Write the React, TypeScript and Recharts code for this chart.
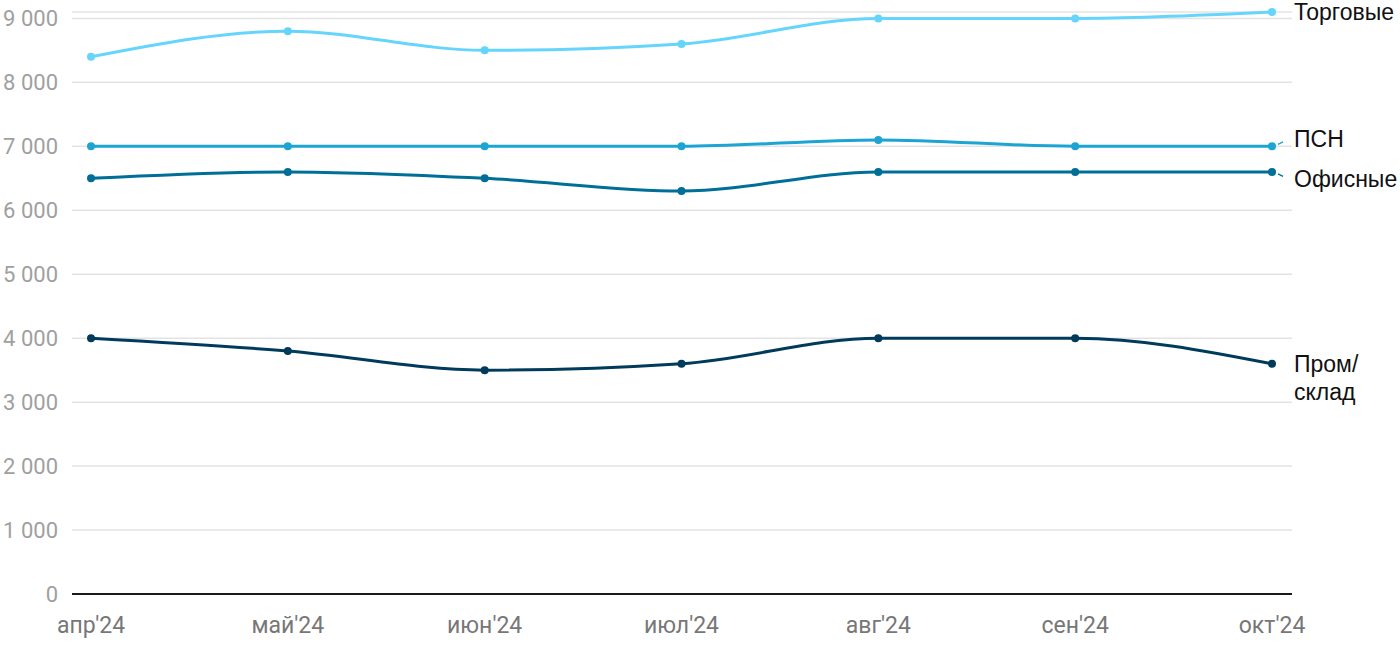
import React from 'react'
import { LineChart, Line, XAxis, YAxis, CartesianGrid, LabelList } from 'recharts'

const months = ["апр'24", "май'24", "июн'24", "июл'24", "авг'24", "сен'24", "окт'24"]
const retail = [8400, 8800, 8500, 8600, 9000, 9000, 9100]
const psn = [7000, 7000, 7000, 7000, 7100, 7000, 7000]
const office = [6500, 6600, 6500, 6300, 6600, 6600, 6600]
const warehouse = [4000, 3800, 3500, 3600, 4000, 4000, 3600]
const yTicks = [0, 1000, 2000, 3000, 4000, 5000, 6000, 7000, 8000, 9000]

const data = months.map((m, i) => ({
  m,
  retail: retail[i],
  psn: psn[i],
  office: office[i],
  warehouse: warehouse[i],
}))

const FONT = 'Roboto, "Liberation Sans", Arial, sans-serif'
const LABEL_FONT = '"Liberation Sans", Arial, Helvetica, sans-serif'
const fmt = (v: number) => String(v).replace(/\B(?=(\d{3})+(?!\d))/g, ' ')

interface EndLabelProps {
  x?: number
  y?: number
  index?: number
  [key: string]: unknown
}

function endLabel(lines: string[], color: string, shift: number) {
  return (props: EndLabelProps) => {
    if (props.index !== months.length - 1) return null
    const x = Number(props.x)
    const y = Number(props.y)
    const dir = Math.sign(shift)
    return (
      <g>
        {shift !== 0 && (
          <line
            x1={x + 6}
            y1={y + dir * 2}
            x2={x + 11}
            y2={y + dir * 4.5}
            stroke={color}
            strokeWidth={1.5}
          />
        )}
        <text x={x + 22} y={y + shift} fontSize={23} fontFamily={LABEL_FONT} fill="#111" dominantBaseline="central">
          {lines.map((t, i) => (
            <tspan key={i} x={x + 22} dy={i === 0 ? 0 : 28}>
              {t}
            </tspan>
          ))}
        </text>
      </g>
    )
  }
}

const series = [
  { key: 'warehouse', color: '#003b5c', lines: ['Пром/', 'склад'], shift: 1 / 1e9 },
  { key: 'office', color: '#006f98', lines: ['Офисные'], shift: 7 },
  { key: 'psn', color: '#1ca5d2', lines: ['ПСН'], shift: -7 },
  { key: 'retail', color: '#66d5fb', lines: ['Торговые'], shift: 0 },
]

export default function App() {
  return (
    <div style={{ position: 'absolute', left: 0, top: 0 }}>
      <LineChart width={1400} height={650} data={data} margin={{ top: 12, right: 108, bottom: 0, left: 0 }}>
        <CartesianGrid vertical={false} stroke="#e3e3e3" strokeWidth={1.5} />
        <XAxis
          dataKey="m"
          height={56}
          padding={{ left: 19, right: 20 }}
          tickLine={false}
          tickSize={0}
          tickMargin={23}
          axisLine={{ stroke: '#1a1a1a', strokeWidth: 2 }}
          tick={{ fill: '#777', fontSize: 23, fontFamily: FONT }}
          interval={0}
        />
        <YAxis
          width={72}
          domain={[0, 9100]}
          ticks={yTicks}
          tickFormatter={fmt}
          axisLine={false}
          tickLine={false}
          tickSize={0}
          tickMargin={14}
          tick={{ fill: '#a0a0a0', fontSize: 22, fontFamily: FONT }}
        />
        {series.map((s) => (
          <Line
            key={s.key}
            type="monotone"
            dataKey={s.key}
            stroke={s.color}
            strokeWidth={3}
            dot={{ r: 4, fill: s.color, stroke: 'none' }}
            activeDot={false}
            isAnimationActive={false}
          >
            <LabelList dataKey={s.key} content={endLabel(s.lines, s.color, Math.abs(s.shift) < 1 ? 0 : s.shift)} />
          </Line>
        ))}
      </LineChart>
    </div>
  )
}
